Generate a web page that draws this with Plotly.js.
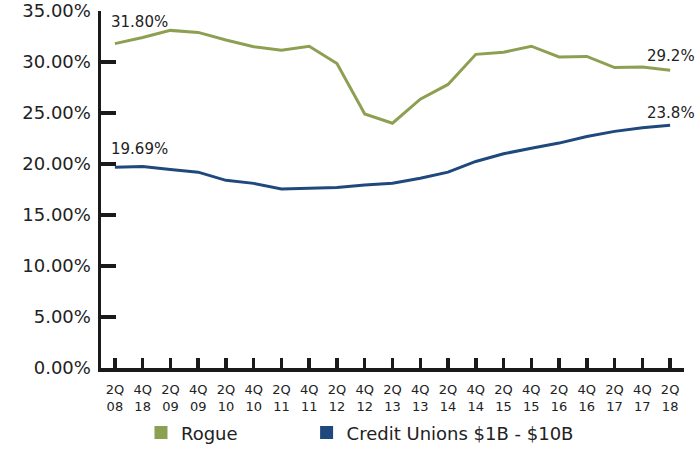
<!DOCTYPE html>
<html>
<head>
<meta charset="utf-8">
<script src="https://cdn.plot.ly/plotly-3.0.1.min.js"></script>
<style>html,body{margin:0;padding:0;background:#fff;}#chart{width:700px;height:450px;}</style>
</head>
<body>
<div id="chart"></div>
<script>
var categories = ["2Q<br>08","4Q<br>18","2Q<br>09","4Q<br>09","2Q<br>10","4Q<br>10","2Q<br>11","4Q<br>11","2Q<br>12","4Q<br>12","2Q<br>13","4Q<br>13","2Q<br>14","4Q<br>14","2Q<br>15","4Q<br>15","2Q<br>16","4Q<br>16","2Q<br>17","4Q<br>17","2Q<br>18"];
var rogue = [31.80, 32.4, 33.1, 32.9, 32.15, 31.5, 31.15, 31.55, 29.85, 24.9, 24.0, 26.35, 27.8, 30.75, 30.95, 31.55, 30.5, 30.55, 29.45, 29.5, 29.2];
var creditUnions = [19.69, 19.75, 19.45, 19.2, 18.4, 18.1, 17.55, 17.62, 17.7, 17.95, 18.12, 18.6, 19.2, 20.25, 21.0, 21.55, 22.05, 22.7, 23.2, 23.55, 23.8];
var seriesNames = ["Rogue", "Credit Unions $1B - $10B"];
var yTicks = [0, 5, 10, 15, 20, 25, 30, 35];
var labelFirstRogue = "31.80%", labelFirstCU = "19.69%", labelLastRogue = "29.2%", labelLastCU = "23.8%";

var green = "#8da052", blue = "#1f497d", ink = "#222222", axisInk = "#1a1a1a";
var font = "DejaVu Sans, sans-serif";

var traces = [
  {x: categories, y: rogue, type: "scatter", mode: "lines", line: {color: green, width: 3}, showlegend: false, hoverinfo: "skip"},
  {x: categories, y: creditUnions, type: "scatter", mode: "lines", line: {color: blue, width: 3}, showlegend: false, hoverinfo: "skip"},
  {x: [null], y: [null], type: "scatter", mode: "markers", name: seriesNames[0], legend: "legend", marker: {symbol: "square", size: 13, color: green}},
  {x: [null], y: [null], type: "scatter", mode: "markers", name: seriesNames[1], legend: "legend2", marker: {symbol: "square", size: 13, color: blue}}
];

var legendCommon = {orientation: "h", xref: "container", yref: "container", xanchor: "left", yanchor: "middle",
                    font: {family: font, size: 18, color: ink}, itemwidth: 30, bgcolor: "rgba(0,0,0,0)"};
var last = categories.length - 1;
var layout = {
  width: 700, height: 450,
  margin: {l: 101, r: 16, t: 11, b: 82, pad: 0},
  paper_bgcolor: "#ffffff", plot_bgcolor: "#ffffff",
  font: {family: font, color: ink},
  showlegend: true,
  legend: Object.assign({}, legendCommon, {x: 0.2014, y: 0.038}),
  legend2: Object.assign({}, legendCommon, {x: 0.438, y: 0.038}),
  xaxis: {type: "category", range: [-0.5, 20.5], showgrid: false, zeroline: false,
          showline: true, linecolor: axisInk, linewidth: 3.5,
          ticks: "inside", ticklen: 10, tickwidth: 3.5, tickcolor: axisInk, ticklabelstandoff: 7,
          tickfont: {family: font, size: 13, color: ink}, fixedrange: true},
  yaxis: {range: [0, 35], tickvals: yTicks, ticktext: yTicks.map(function(v){return v.toFixed(2) + "%";}),
          showgrid: false, zeroline: false,
          showline: true, linecolor: axisInk, linewidth: 3.5,
          ticks: "inside", ticklen: 15, tickwidth: 3.5, tickcolor: axisInk, ticklabelstandoff: 3,
          tickfont: {family: font, size: 18, color: ink}, fixedrange: true},
  annotations: [
    {x: categories[0], y: rogue[0], text: labelFirstRogue, showarrow: false, xanchor: "left", yanchor: "bottom", xshift: -6, yshift: 11, font: {family: font, size: 15, color: ink}},
    {x: categories[0], y: creditUnions[0], text: labelFirstCU, showarrow: false, xanchor: "left", yanchor: "bottom", xshift: -6, yshift: 7, font: {family: font, size: 15, color: ink}},
    {x: categories[last], y: rogue[last], text: labelLastRogue, showarrow: false, xanchor: "right", yanchor: "bottom", xshift: 27, yshift: 3, font: {family: font, size: 15, color: ink}},
    {x: categories[last], y: creditUnions[last], text: labelLastCU, showarrow: false, xanchor: "right", yanchor: "bottom", xshift: 27, yshift: 1, font: {family: font, size: 15, color: ink}}
  ]
};

Plotly.newPlot("chart", traces, layout, {staticPlot: true, displayModeBar: false});
</script>
</body>
</html>
